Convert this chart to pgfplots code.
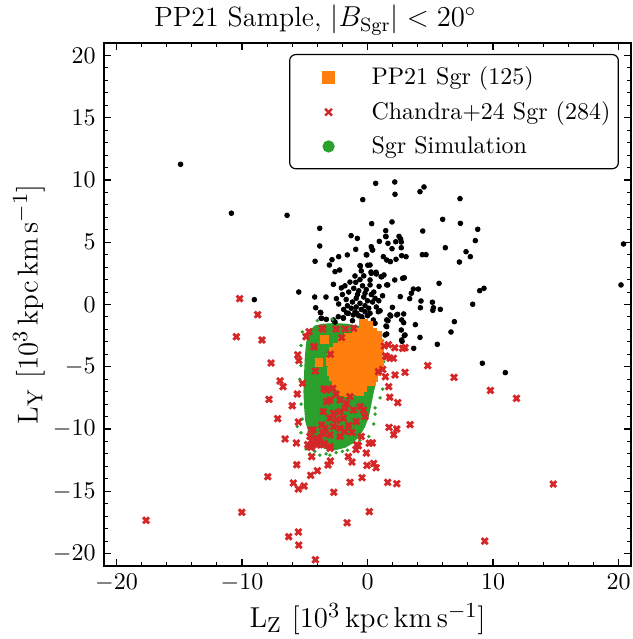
\documentclass[border=0pt]{standalone}
\usepackage{pgfplots}
\pgfplotsset{compat=1.18}
\definecolor{tabor}{HTML}{FF7F0E}
\definecolor{tabred}{HTML}{D62728}
\definecolor{tabgreen}{HTML}{2CA02C}
\begin{document}
\begin{tikzpicture}
\begin{axis}[
 scale only axis, width=219.6pt, height=217.9pt,
 xmin=-21, xmax=21, ymin=-21, ymax=21,
 xtick={-20,-10,0,10,20}, ytick={-20,-15,...,20},
 minor x tick num=4, minor y tick num=4,
 tick align=inside, xtick pos=both, ytick pos=both,
 major tick length=2.9pt, minor tick length=1.7pt,
 tick style={line width=0.45pt, black},
 axis line style={line width=0.5pt},
 tick label style={font=\fontsize{10}{12}\selectfont},
 xlabel={$\mathrm{L_Z}$ $[10^3\,\mathrm{kpc\,km\,s^{-1}}]$},
 ylabel={$\mathrm{L_Y}$ $[10^3\,\mathrm{kpc\,km\,s^{-1}}]$},
 label style={font=\fontsize{12.8}{15}\selectfont},
 xlabel style={at={(axis description cs:0.5,-0.1185)}, anchor=base},
 ylabel style={at={(axis description cs:-0.1423,0.5)}, anchor=center},
 title={PP21 Sample, $|B_{\mathrm{Sgr}}|<20^\circ$},
 every axis title shift=0pt,
 title style={at={(axis description cs:0.401,1.031)}, anchor=base, font=\fontsize{11.6}{14}\selectfont},
 legend style={at={(rel axis cs:0.977,0.979)}, anchor=north east, draw=black, rounded corners=2.5pt,
   font=\fontsize{10}{12}\selectfont, line width=0.5pt, inner xsep=1.3pt, inner ysep=3pt, row sep=1.5pt},
 legend cell align=left,
 legend image code/.code={\path (-14.4pt,0pt) (15.4pt,0pt); \draw[#1] plot coordinates {(0pt,0pt)};},
]
\addlegendimage{only marks, mark=square*, mark size=2.3pt, color=tabor}
\addlegendentry{PP21 Sgr (125)}
\addlegendimage{only marks, mark=x, mark size=2pt, line width=1pt, color=tabred}
\addlegendentry{Chandra+24 Sgr (284)}
\addlegendimage{only marks, mark=*, mark size=2.3pt, color=tabgreen}
\addlegendentry{Sgr Simulation}

% black points
\addplot[only marks, mark=*, mark size=0.95pt, black, forget plot] coordinates {
(-14.9,11.26) (-10.85,7.33) (-6.41,7.16) (0.65,9.73) (-0.38,8.42) (0.33,6.49) (-3.81,6.12) (1.45,5.93) (-1.31,5.53) (-0.81,5.31) (0.94,5.07) (1.47,5.45) (-3.81,4.70) (0.30,4.64) (-0.94,4.43) (0.38,4.38) (-4.18,3.47) (-2.83,3.60) (-2.30,3.84) (-1.61,3.98) (-0.06,3.98) (-3.04,3.17) (-2.59,2.64) (-2.22,2.77) (-0.57,3.09) (0.2,3.17) (1.26,3.84) (-2.72,1.62) (-2.09,1.33) (-1.0,2.29) (-0.94,1.78) (0.3,2.5) (0.7,2.45) (1.13,2.23) (1.53,1.57) (0.92,1.46) (-5.48,1.0) (-4.21,0.6) (-3.31,0.6) (-2.48,0.47) (-9.02,0.39) (-4.13,-0.26) (-3.76,-0.63) (-3.70,-1.11) (-2.30,0.04) (-1.66,-0.68) (-1.93,-1.06) (-2.59,-1.41) (-3.28,-1.19)
(2.17,9.84) (2.19,8.85) (4.18,9.06) (4.5,9.44) (7.37,8.5) (1.95,6.63) (5.99,6.84) (7.4,6.52) (8.78,6.04) (8.59,5.13) (1.45,5.47) (2.51,5.47) (2.64,5.26) (2.69,5.02) (4.4,5.9) (1.63,4.91) (2.25,5.04) (0.41,4.38) (1.95,4.48) (2.69,4.56) (6.2,4.56) (7.85,4.24) (8.19,3.84) (4.37,4.0) (4.66,4.0) (7.32,3.41) (-0.1,4.0) (1.53,3.57) (1.82,3.44) (2.27,3.63) (2.72,3.92) (3.07,3.84) (-0.6,3.12) (0.02,3.15) (0.28,2.61) (0.68,2.59) (1.08,2.23) (1.31,2.37) (2.17,1.97) (2.8,2.1) (2.93,2.15) (5.7,1.7) (0.2,1.97) (0.2,1.57) (1.61,1.57) (3.65,1.24) (4.05,1.24) (3.49,0.9) (9.28,1.3) (8.94,1.11) (2.61,0.63) (3.36,0.47) (4.26,0.28) (4.21,-0.26) (5.17,0.18) (5.25,-0.26) (5.2,-0.47) (5.8,-0.39) (8.38,0.02) (1.98,-0.23) (2.4,-0.79) (2.88,-0.76) (2.88,-1.46) (3.81,-1.62) (2.69,-2.05) (2.93,-2.5) (2.75,-2.96) (4.18,-2.64) (3.68,-3.52) (6.92,-1.38) (6.65,-2.21) (5.56,-3.2) (1.63,-1.3) (1.47,-1.73) (1.53,-2.37) (1.85,-0.92) (9.15,-4.72) (10.98,-5.47) (20.4,4.86) (20.2,1.57)
(-3.73,-0.66) (-3.65,-1.11) (-2.72,-1.24) (-2.33,-0.98) (-1.93,-1.11) (-1.53,-0.71) (-1.13,-0.84) (-0.86,-0.71) (-0.46,-0.98) (-0.2,-0.58) (0.2,-0.71) (0.46,-1.24) (0.6,-1.51) (0.86,-0.58) (1.53,-1.24) (1.79,-0.84) (2.33,-0.84) (2.72,-1.24) (1.53,-1.78) (1.4,-2.45) (2.72,-2.85) (2.99,-2.45)
(-1.2,0.2) (-0.9,0.5) (-0.6,0.1) (-0.3,0.6) (0.0,0.3) (0.3,0.8) (-1.5,1.0) (-1.1,1.3) (-0.7,1.1) (-0.4,1.5) (-0.1,1.2) (0.5,1.0) (-1.3,-0.3) (-0.9,-0.2) (-0.5,-0.4) (-0.2,-0.1) (0.1,-0.3) (0.4,0.2) (-1.7,0.4) (-1.9,-0.4) (-0.8,0.8) (-0.2,0.9) (-1.0,-0.6) (-0.4,-1.2) (0.0,-0.9) (0.7,-0.2) (-1.4,1.8) (-0.6,2.0) (-1.8,1.5) (0.6,0.5) (-1.6,-0.1) (-0.7,-0.9) (-2.0,0.8) (-1.2,-1.3) (0.9,0.3) (1.2,0.7) (1.0,-0.5) (-0.3,2.3) (-0.5,2.7)
};

% simulation blob
\addplot[fill=tabgreen, draw=tabgreen, line width=0.6pt, forget plot] coordinates {
(-4.2,-1.75) (-3.5,-1.6) (-2.6,-1.55) (-1.7,-1.6) (-0.8,-1.75) (0.15,-2.05) (0.7,-2.5) (0.95,-3.1) (1.0,-4.2) (0.85,-5.3) (0.68,-6.0) (0.45,-7.0) (0.25,-8.0) (0.05,-9.0) (-0.25,-9.8) (-0.65,-10.5) (-1.2,-11.1) (-1.8,-11.45) (-2.6,-11.65) (-3.4,-11.55) (-4.1,-11.1) (-4.6,-10.4) (-4.9,-9.4) (-5.0,-8.2) (-5.05,-7.0) (-5.0,-5.6) (-4.95,-4.4) (-4.85,-3.2) (-4.7,-2.3)
} -- cycle;
\addplot[only marks, mark=*, mark size=0.5pt, tabgreen, forget plot] coordinates {
(-5.3,-10.3) (-4.9,-11.6) (-4.2,-11.8) (-3.3,-12.0) (-2.5,-11.9) (0.1,-10.6) (0.5,-9.6) (0.6,-8.8) (1.0,-7.5) (-5.3,-3.3) (-5.4,-6.0) (-5.3,-8.0) (-1.0,-11.5) (-5.6,-9.8) (-4.6,-12.0) (-3.8,-12.1) (-2.0,-11.8) (-1.6,-11.7) (0.6,-8.3) (1.2,-6.8) (1.3,-4.6) (1.2,-2.9) (-5.2,-2.2) (-5.3,-4.9) (-5.5,-7.3) (-5.2,-9.2) (-4.0,-1.3) (-2.8,-1.2) (-0.6,-10.9) (-3.0,-12.1)
};

% PP21 orange
\addplot[only marks, mark=square*, mark size=1.6pt, color=tabor, forget plot] coordinates {
(-0.3,-1.8) (0.1,-1.7) (-0.3,-1.5)
(-0.9,-2.2) (-0.4,-2.3) (0.0,-2.1) (0.4,-2.2)
(-1.5,-2.6) (-1.0,-2.7) (-0.5,-2.5) (-0.1,-2.7) (0.3,-2.6) (0.8,-2.5)
(-2.0,-3.0) (-1.6,-3.1) (-1.1,-2.9) (-0.7,-3.0) (-0.2,-3.1) (0.2,-2.9) (0.6,-3.0) (0.9,-3.1)
(-2.4,-3.4) (-1.9,-3.5) (-1.4,-3.3) (-1.0,-3.4) (-0.5,-3.5) (-0.1,-3.3) (0.4,-3.4) (0.8,-3.5)
(-2.7,-3.8) (-2.2,-3.9) (-1.7,-3.7) (-1.2,-3.8) (-0.8,-3.9) (-0.3,-3.7) (0.1,-3.8) (0.6,-3.9) (1.0,-3.8)
(-2.9,-4.2) (-2.4,-4.3) (-1.9,-4.1) (-1.5,-4.2) (-1.0,-4.3) (-0.6,-4.1) (-0.1,-4.2) (0.3,-4.3) (0.8,-4.2)
(-3.0,-4.6) (-2.6,-4.7) (-2.1,-4.5) (-1.6,-4.6) (-1.2,-4.7) (-0.7,-4.5) (-0.3,-4.6) (0.2,-4.7) (0.6,-4.5) (1.0,-4.6)
(-2.8,-5.0) (-2.3,-5.1) (-1.8,-4.9) (-1.4,-5.0) (-0.9,-5.1) (-0.5,-4.9) (0.0,-5.0) (0.5,-5.1) (0.9,-5.0)
(-2.9,-5.4) (-2.5,-5.5) (-2.0,-5.3) (-1.5,-5.4) (-1.1,-5.5) (-0.6,-5.3) (-0.2,-5.4) (0.3,-5.5) (0.7,-5.4)
(-2.7,-5.8) (-2.2,-5.9) (-1.7,-5.7) (-1.3,-5.8) (-0.8,-5.9) (-0.4,-5.7) (0.1,-5.8) (0.5,-5.9)
(-2.5,-6.2) (-2.0,-6.3) (-1.5,-6.1) (-1.0,-6.2) (-0.6,-6.3) (-0.1,-6.1) (0.3,-6.2)
(-2.3,-6.6) (-1.8,-6.7) (-1.3,-6.5) (-0.8,-6.6) (-0.4,-6.7)
(-2.0,-7.0) (-1.5,-7.1) (-1.0,-6.9) (-0.6,-7.0)
(-3.44,-2.79) (-3.87,-4.67) (0.01,-6.14)
};

% Chandra red
\addplot[only marks, mark=x, mark size=1.75pt, line width=1.2pt, color=tabred, forget plot] coordinates {
(-10.19,0.47) (-8.75,-0.82) (-10.45,-2.59) (-8.41,-2.85) (-4.66,-2.18) (-4.9,-2.59) (-3.57,-1.97) (-2.51,-1.97) (-1.79,-1.97) (-2.06,-2.66) (-4.24,-3.39) (-1.1,-1.91) (-2.96,-4.0) (-5.56,-4.05) (-5.48,-4.5) (-7.69,-4.7) (-4.16,-5.34) (-6.97,-6.14) (-6.73,-6.6) (-5.18,-6.33) (-7.85,-7.62) (-5.6,-7.19) (-6.0,-8.13) (-7.16,-9.17) (-5.51,-9.44) (-6.57,-10.8) (-5.67,-11.12) (-5.64,-12.87) (-7.95,-13.83) (-5.91,-14.34) (-5.51,-14.82) (-10.02,-16.69) (-17.65,-17.33) (-6.28,-18.65) (-5.51,-18.27) (-5.48,-19.32) (-4.5,-10.08) (-4.77,-11.26) (-4.48,-10.94) (-4.05,-11.29) (-4.5,-11.47) (-4.05,-10.75) (-3.44,-11.15) (-2.99,-11.55) (-3.57,-10.3) (-4.45,-12.22) (-4.53,-13.72) (-4.0,-13.35) (-3.15,-12.89) (-2.96,-12.57) (-5.06,-14.58) (-2.69,-15.08) (-1.53,-12.22) (-1.24,-12.65) (-0.92,-11.66) (-0.73,-11.34) (-0.1,-11.93) (0.38,-11.12) (-0.04,-12.92) (0.49,-12.76) (0.68,-13.11) (-0.44,-13.91) (-1.39,-14.28) (-1.24,-10.27) (1.71,-9.87) (2.33,-10.0) (2.09,-10.46) (3.39,-9.65) (1.61,-14.28) (2.33,-14.39) (0.14,-16.64) (-1.63,-17.53) (-4.16,-20.5) (9.34,-19.0) (14.8,-14.42)
(1.34,-3.33) (1.66,-3.23) (2.17,-3.47) (2.8,-3.52) (2.99,-3.47) (1.53,-4.19) (1.79,-4.32) (2.06,-4.32) (0.86,-5.4) (1.21,-5.21) (1.42,-5.8) (2.19,-5.66) (2.99,-5.45) (4.8,-4.91) (6.89,-5.85) (1.69,-6.6) (1.77,-7.45) (2.41,-7.88) (1.43,-4.13) (9.79,-6.9) (11.87,-7.54)
(-3.46,-6.78) (-3.25,-6.86) (-2.77,-6.73) (-4.29,-3.39) (-3.63,-1.91)
(-3.25,-7.8) (-2.99,-7.67) (-2.19,-7.67) (-1.66,-7.93) (-1.79,-8.33) (-1.13,-8.47) (-0.59,-8.2) (-0.33,-8.47) (-0.2,-9.0) (-3.52,-8.6) (-2.72,-8.73) (-2.19,-8.6) (-2.99,-9.13) (-2.46,-9.27) (-1.93,-9.13) (-3.65,-9.67) (-3.39,-9.94) (-2.72,-9.8) (-2.19,-9.94) (-4.32,-10.07) (-3.52,-10.34) (-2.99,-10.47) (-2.19,-10.6) (-4.59,-10.6) (-3.79,-10.74) (-4.05,-11.14) (-3.52,-11.27) (-2.99,-11.41) (-0.86,-11.27) (0.14,-11.14) (-4.59,-11.41)
(-2.5,-7.2) (-1.4,-7.4) (-0.9,-9.4) (-1.5,-9.7) (-0.5,-10.6) (-1.8,-10.2)
};
\end{axis}
\pgfresetboundingbox
\useasboundingbox ([shift={(-43.33pt,-30.42pt)}]current axis.south west) rectangle ([shift={(0.42pt,17.92pt)}]current axis.north east);
\end{tikzpicture}
\end{document}
